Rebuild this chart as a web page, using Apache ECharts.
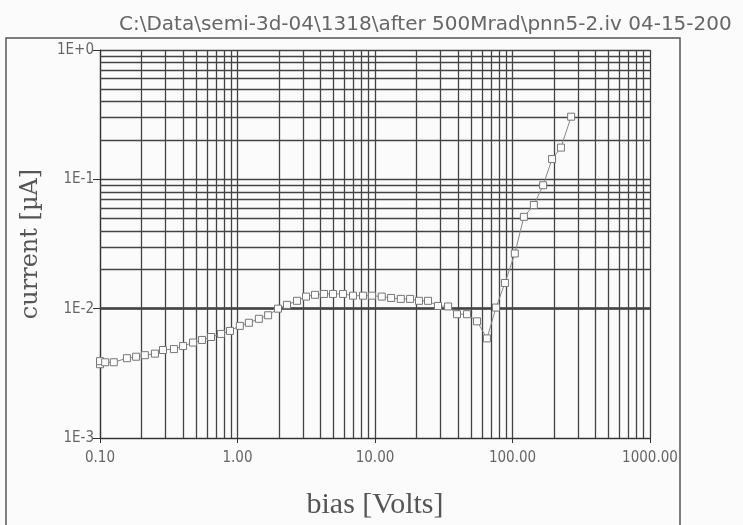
<!DOCTYPE html>
<html>
<head>
<meta charset="utf-8">
<script src="https://cdn.jsdelivr.net/npm/echarts@6/dist/echarts.min.js"></script>
<style>html,body{margin:0;padding:0;background:#fbfbfb;}#c{width:743px;height:525px;}</style>
</head>
<body>
<div id="c"></div>
<script>
const titleText = "C:\\Data\\semi-3d-04\\1318\\after 500Mrad\\pnn5-2.iv 04-15-200";
const xName = "bias [Volts]";
const yName = "current [\u00b5A]";
const biasV = [0.1, 0.1, 0.109, 0.126, 0.157, 0.183, 0.212, 0.251, 0.287, 0.345, 0.402, 0.475, 0.552, 0.642, 0.759, 0.882,
  1.04, 1.21, 1.43, 1.67, 1.97, 2.29, 2.71, 3.15, 3.66, 4.26, 4.95, 5.85, 6.92, 8.18, 9.51,
  11.2, 13.1, 15.4, 18.0, 20.9, 24.3, 28.7, 34.0, 39.5, 46.7, 55.2, 65.2, 75.9, 88.1,
  104, 121, 143, 167, 194, 225, 267];
const currentUA = [0.00372, 0.00393, 0.00385, 0.00385, 0.00414, 0.00425, 0.00437, 0.00449, 0.00479, 0.00487, 0.00514, 0.00547, 0.00573, 0.00604, 0.00638, 0.00673,
  0.00736, 0.00778, 0.00835, 0.00889, 0.0100, 0.0107, 0.0115, 0.0124, 0.0128, 0.0130, 0.0130, 0.0130, 0.0126, 0.0126, 0.0126,
  0.0124, 0.0121, 0.0119, 0.0119, 0.0115, 0.0115, 0.0105, 0.0104, 0.00906, 0.00906, 0.00798, 0.00589, 0.0102, 0.0158,
  0.0267, 0.0513, 0.0633, 0.0900, 0.1435, 0.176, 0.305];
const xMinorGrid = [0.2,0.3,0.4,0.5,0.6,0.7,0.8,0.9, 2,3,4,5,6,7,8,9, 20,30,40,50,60,70,80,90, 200,300,400,500,600,700,800,900];
const yMinorGrid = [0.002,0.003,0.004,0.005,0.006,0.007,0.008,0.009, 0.02,0.03,0.04,0.05,0.06,0.07,0.08,0.09, 0.2,0.3,0.4,0.5,0.6,0.7,0.8,0.9];

const chart = echarts.init(document.getElementById('c'));
const pts = biasV.map((v, i) => [v, currentUA[i]]);
const gridCol = '#444';
chart.setOption({
  backgroundColor: '#fbfbfb',
  animation: false,
  title: {
    text: titleText, left: 114, top: 10,
    textStyle: { fontFamily: 'DejaVu Sans', fontWeight: 'normal', fontSize: 20, color: '#666' }
  },
  graphic: [{
    type: 'rect', shape: { x: 6, y: 38, width: 674, height: 500 },
    style: { fill: 'none', stroke: '#555', lineWidth: 1.5 }, silent: true, z: -1
  }],
  grid: { left: 100, right: 93, top: 50, bottom: 82 },
  xAxis: {
    type: 'log', logBase: 10, min: 0.1, max: 1000,
    name: xName, nameLocation: 'middle', nameGap: 52,
    nameTextStyle: { fontFamily: 'Liberation Serif', fontSize: 30, color: '#555' },
    axisLine: { show: true, lineStyle: { color: '#333', width: 1.2 } },
    axisTick: { show: true, length: 5, lineStyle: { color: '#333' } },
    axisLabel: { formatter: v => Number(v).toFixed(2), fontFamily: 'DejaVu Sans Condensed, DejaVu Sans', fontSize: 15, color: '#666', margin: 13, showMaxLabel: true, showMinLabel: true },
    splitLine: { show: true, lineStyle: { color: gridCol, width: 1.3 } }
  },
  yAxis: {
    type: 'log', logBase: 10, min: 0.001, max: 1,
    name: yName, nameLocation: 'middle', nameGap: 57, nameRotate: 90,
    nameTextStyle: { fontFamily: 'DejaVu Serif', fontSize: 24, color: '#555' },
    axisLine: { show: true, lineStyle: { color: '#333', width: 1.2 } },
    axisTick: { show: true, length: 7, lineStyle: { color: '#333' } },
    axisLabel: {
      formatter: v => { const e = Math.round(Math.log10(v)); return '1E' + (e >= 0 ? '+' + e : String(e)); },
      fontFamily: 'DejaVu Sans Condensed, DejaVu Sans', fontSize: 15, color: '#666', margin: 6
    },
    splitLine: { show: true, lineStyle: { color: gridCol, width: 1.3 } }
  },
  series: [{
    type: 'line', data: pts,
    symbol: 'rect', symbolSize: 7,
    itemStyle: { color: '#fbfbfb', borderColor: '#777', borderWidth: 1 },
    lineStyle: { color: '#888', width: 1 },
    z: 5,
    markLine: {
      silent: true, symbol: 'none', animation: false,
      label: { show: false },
      lineStyle: { color: gridCol, width: 1.3, type: 'solid' },
      emphasis: { disabled: true },
      data: xMinorGrid.map(v => ({ xAxis: v })).concat(yMinorGrid.map(v => ({ yAxis: v })))
    }
  }]
});
</script>
</body>
</html>
